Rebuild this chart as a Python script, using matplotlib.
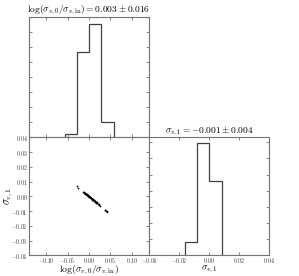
import numpy as np
import matplotlib
matplotlib.use('Agg')
from matplotlib import pyplot as plt
from matplotlib.ticker import FuncFormatter, MultipleLocator

plt.rcParams['mathtext.fontset'] = 'cm'
plt.rcParams['font.family'] = 'serif'
plt.rcParams['font.serif'] = ['DejaVu Serif']

# Nuage de points (log(sigma_v0/sigma_vin), sigma_v1)
x_pts = [-0.0285, -0.0265,
         -0.0140, -0.0128, -0.0115, -0.0102, -0.0095, -0.0082, -0.0075, -0.0066,
         -0.0058, -0.0050, -0.0044, -0.0036, -0.0030, -0.0022, -0.0015, -0.0008,
         -0.0003, 0.0004, 0.0010, 0.0016, 0.0022, 0.0030, 0.0036, 0.0042,
         0.0050, 0.0057, 0.0064, 0.0072, 0.0080, 0.0088, 0.0095, 0.0104,
         0.0112, 0.0120, 0.0130, 0.0140, 0.0150, 0.0160, 0.0172, 0.0185,
         0.0198, 0.0212, 0.0225, 0.0240, 0.0255,
         0.0370, 0.0385, 0.0400, 0.0415, 0.0428]
y_pts = [0.0068, 0.0060,
         0.0033, 0.0028, 0.0025, 0.0026, 0.0020, 0.0018, 0.0014, 0.0016,
         0.0011, 0.0009, 0.0013, 0.0006, 0.0004, 0.0008, 0.0002, 0.0000,
         -0.0003, 0.0001, -0.0004, -0.0002, -0.0007, -0.0005, -0.0011, -0.0008,
         -0.0014, -0.0012, -0.0018, -0.0016, -0.0022, -0.0019, -0.0026, -0.0023,
         -0.0030, -0.0028, -0.0034, -0.0031, -0.0038, -0.0036, -0.0042, -0.0040,
         -0.0047, -0.0050, -0.0054, -0.0058, -0.0063,
         -0.0090, -0.0094, -0.0098, -0.0102, -0.0106]

# Histogrammes (bords des classes et hauteurs)
bords_x = [-0.057, -0.0285, 0.0, 0.029, 0.058]
hauteurs_x = [0.2, 5.7, 7.55, 1.0]
bords_y = [-0.016, -0.008, 0.0, 0.0085]
hauteurs_y = [0.8, 6.93, 4.6]

titre_x = r'$\log(\sigma_{v,0}/\sigma_{v,\rm in}) = 0.003 \pm 0.016$'
titre_y = r'$\sigma_{v,1} = -0.001 \pm 0.004$'
label_x = r'$\log(\sigma_{v,0}/\sigma_{v,\rm in})$'
label_y = r'$\sigma_{v,1}$'

gris_axe = '0.45'
gris_hist = '0.25'
fmt = FuncFormatter(lambda v, p: '$%.2f$' % v)


def style(ax):
    for s in ax.spines.values():
        s.set_color(gris_axe)
        s.set_linewidth(0.8)
    ax.tick_params(direction='in', top=True, right=True, length=2.5, width=0.6,
                   color=gris_axe, labelsize=4.2, pad=0.8, labelcolor='0.2')


fig = plt.figure(figsize=(2.99, 2.76), dpi=100)
x0, xm, x1 = 0.097, 0.4983, 0.900
y0, ym, y1 = 0.075, 0.502, 0.9384

ax_hx = fig.add_axes([x0, ym, xm - x0, y1 - ym])
ax_sc = fig.add_axes([x0, y0, xm - x0, ym - y0])
ax_hy = fig.add_axes([xm, y0, x1 - xm, ym - y0])

# Histogramme haut-gauche
ax_hx.stairs(hauteurs_x, bords_x, color=gris_hist, linewidth=0.9)
ax_hx.set_xlim(-0.14, 0.14)
ax_hx.set_ylim(0, 8)
ax_hx.xaxis.set_major_locator(MultipleLocator(0.05))
ax_hx.yaxis.set_major_locator(MultipleLocator(1))
style(ax_hx)
ax_hx.tick_params(labelbottom=False, labelleft=False)
ax_hx.set_title(titre_x, fontsize=6.8, pad=3)

# Nuage de points
ax_sc.plot(x_pts, y_pts, 'k.', markersize=2.5, markeredgewidth=0)
ax_sc.set_xlim(-0.14, 0.14)
ax_sc.set_ylim(-0.04, 0.04)
ax_sc.xaxis.set_major_locator(MultipleLocator(0.05))
ax_sc.yaxis.set_major_locator(MultipleLocator(0.01))
ax_sc.xaxis.set_major_formatter(fmt)
ax_sc.yaxis.set_major_formatter(fmt)
style(ax_sc)
ax_sc.set_xlabel(label_x, fontsize=7, va='top')
ax_sc.xaxis.set_label_coords(0.5, -0.068)
ax_sc.set_ylabel(label_y, fontsize=7.5, va='center')
ax_sc.yaxis.set_label_coords(-0.165, 0.5)

# Histogramme bas-droite
ax_hy.stairs(hauteurs_y, bords_y, color=gris_hist, linewidth=0.9)
ax_hy.set_xlim(-0.04, 0.04)
ax_hy.set_ylim(0, 7.3)
ax_hy.xaxis.set_major_locator(MultipleLocator(0.02))
ax_hy.yaxis.set_major_locator(MultipleLocator(1))
ax_hy.xaxis.set_major_formatter(fmt)
style(ax_hy)
ax_hy.tick_params(labelleft=False)
ax_hy.set_xlabel(label_y, fontsize=7, va='top')
ax_hy.xaxis.set_label_coords(0.5, -0.068)
ax_hy.set_title(titre_y, fontsize=6.8, pad=3)

fig.savefig('out.png', dpi=100)
